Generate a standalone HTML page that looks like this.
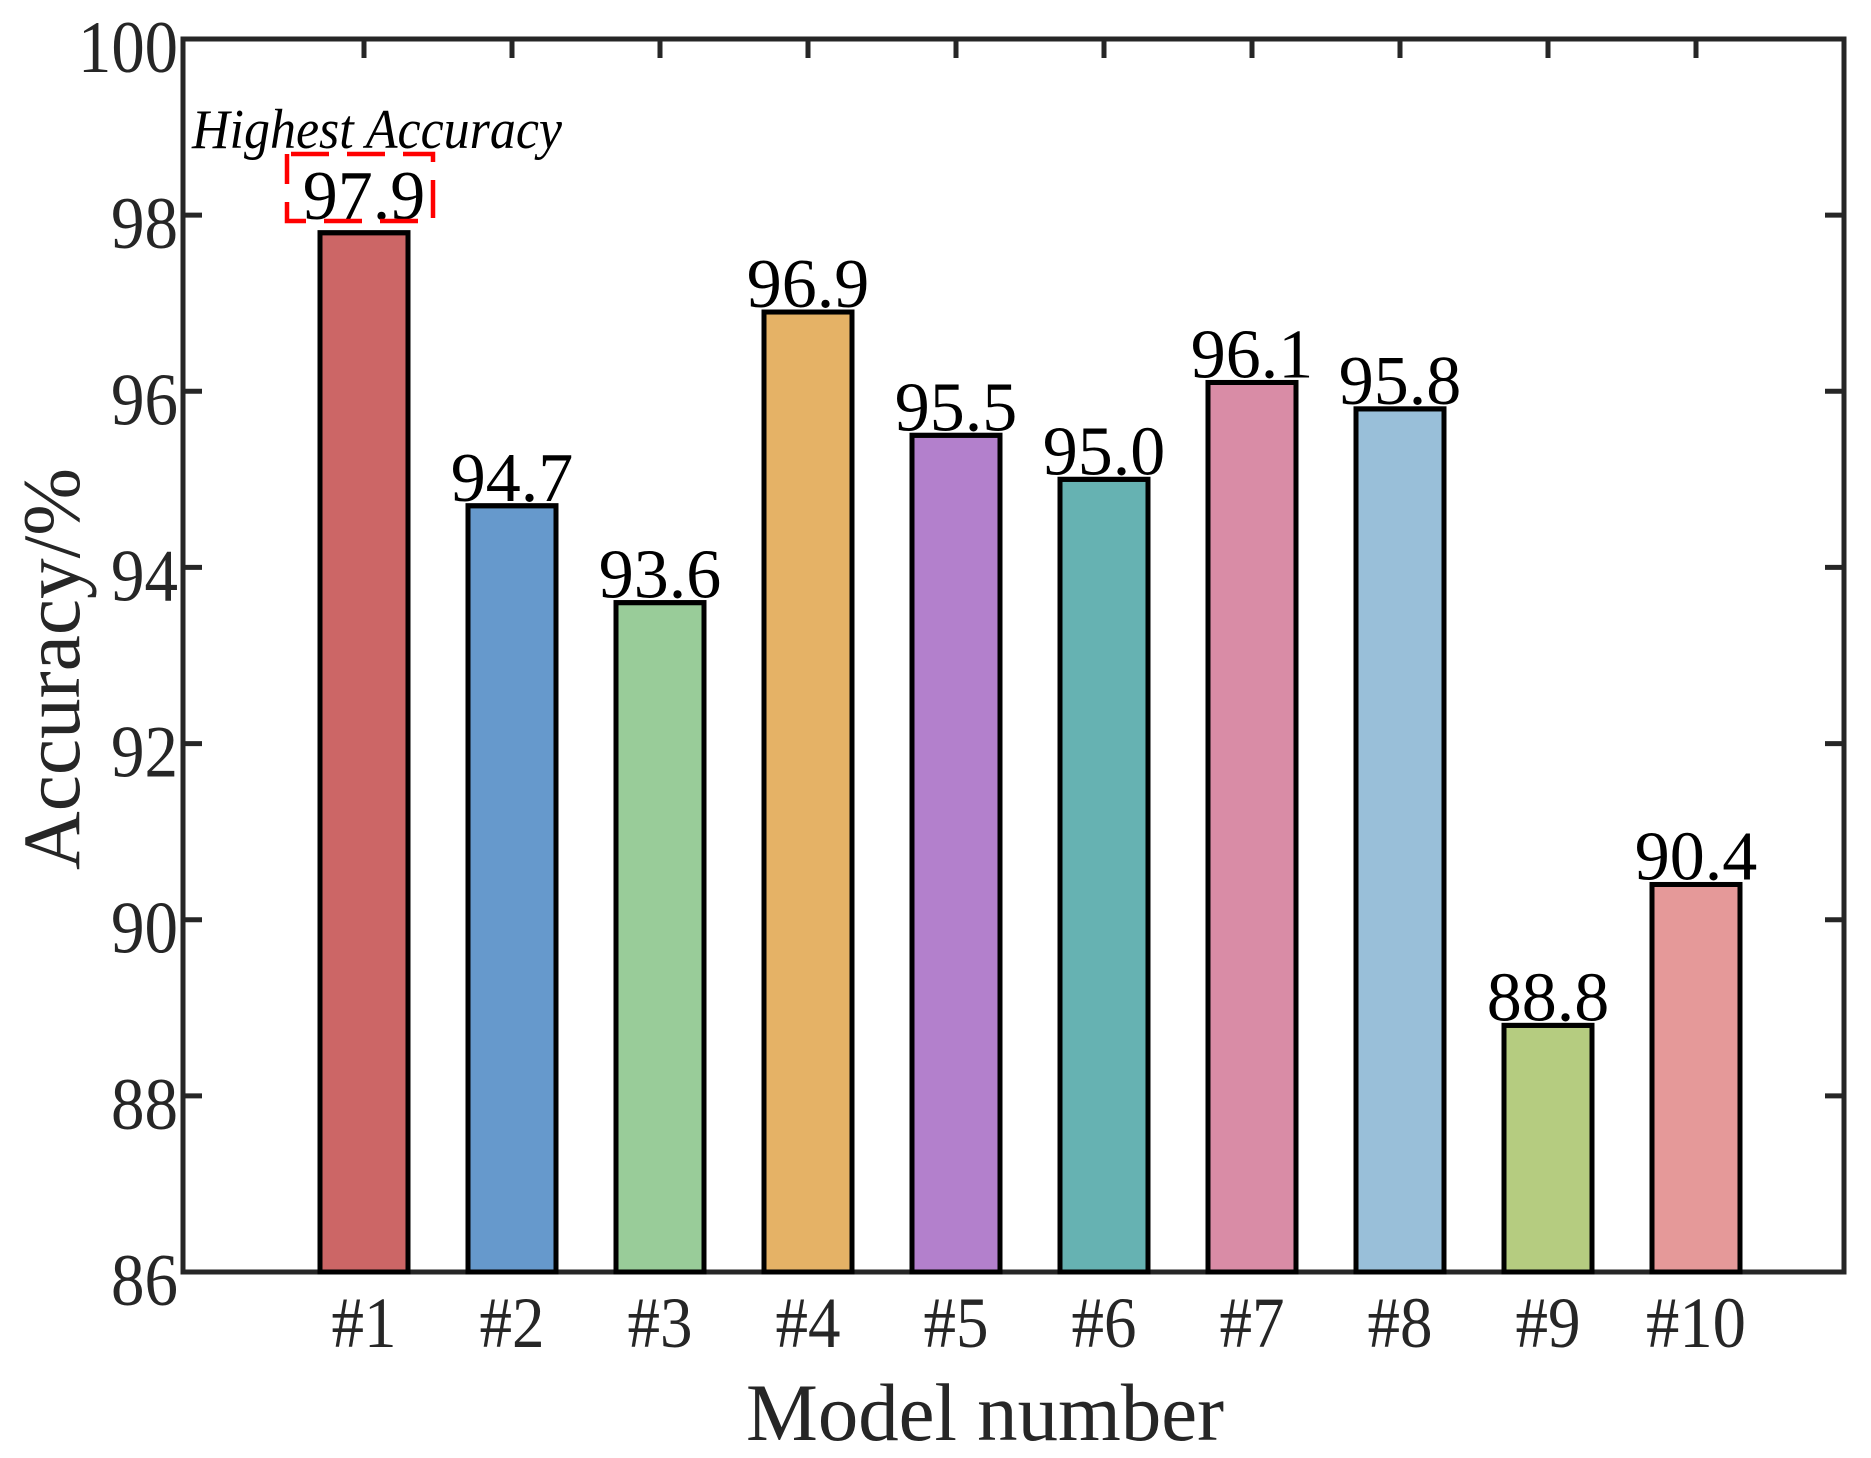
<!DOCTYPE html>
<html><head><meta charset="utf-8"><style>
html,body{margin:0;padding:0;background:#fff;}
svg{display:block;font-family:"Liberation Serif","Times New Roman",serif;}
</style></head><body>
<svg id="chart" width="1871" height="1458" viewBox="0 0 1871 1458" xmlns="http://www.w3.org/2000/svg">
<rect x="0" y="0" width="1871" height="1458" fill="#fff"/>
<g id="bars"></g>
<g id="labels"></g>
<g id="axes"></g>
<text x="192" y="148" font-size="56" font-style="italic" textLength="370" lengthAdjust="spacingAndGlyphs" fill="#000">Highest Accuracy</text>
<rect x="287" y="154" width="146" height="67" fill="none" stroke="#ff0000" stroke-width="4.5" stroke-dasharray="38,18" stroke-dashoffset="-4"/>
<text x="985" y="1440" font-size="82" text-anchor="middle" textLength="478" lengthAdjust="spacingAndGlyphs" fill="#262626">Model number</text>
<text x="0" y="0" font-size="82" text-anchor="middle" textLength="402" lengthAdjust="spacingAndGlyphs" fill="#262626" transform="translate(79,669) rotate(-90)">Accuracy/%</text>
</svg>
<script>
const categories = ["#1","#2","#3","#4","#5","#6","#7","#8","#9","#10"];
const values = [97.8, 94.7, 93.6, 96.9, 95.5, 95.0, 96.1, 95.8, 88.8, 90.4];
const valueLabels = ["97.9","94.7","93.6","96.9","95.5","95.0","96.1","95.8","88.8","90.4"];
const colors = ["#CC6666","#6699CC","#99CC99","#E5B266","#B380CC","#66B2B2","#D98CA6","#99BFD9","#B5CC80","#E59999"];
const yTicks = [86, 88, 90, 92, 94, 96, 98, 100];

const NS = "http://www.w3.org/2000/svg";
const L = 183, R = 1844, T = 39, B = 1272;
const yMin = 86, yMax = 100;
function yScale(v){ return B - (v - yMin) / (yMax - yMin) * (B - T); }
function xScale(i){ return 364 + i * 148; }
const barW = 88;
function mk(tag, attrs, parent){ const e = document.createElementNS(NS, tag); for (const k in attrs) e.setAttribute(k, attrs[k]); parent.appendChild(e); return e; }

const gBars = document.getElementById('bars');
const gLab = document.getElementById('labels');
const gAx = document.getElementById('axes');

categories.forEach((c, i) => {
  const cx = xScale(i), y = yScale(values[i]);
  const r = mk('rect', {x: cx - barW/2, y: y, width: barW, height: B - y, fill: colors[i], stroke: '#000', 'stroke-width': 5}, gBars);
  
  
  const ly = Math.min(y, yScale(parseFloat(valueLabels[i]))) - 5;
  const t = mk('text', {x: cx, y: ly, 'font-size': 70, 'text-anchor': 'middle', fill: '#000'}, gLab);
  t.textContent = valueLabels[i];
  
  
  const xt = mk('text', {x: cx, y: 1347, 'font-size': 72, 'text-anchor': 'middle', fill: '#262626', textLength: c.length > 2 ? 100 : 65, lengthAdjust: 'spacingAndGlyphs'}, gAx);
  xt.textContent = c;
  
  
  const tt = mk('line', {x1: cx, x2: cx, y1: T, y2: T + 19, stroke: '#262626', 'stroke-width': 5}, gAx);
  
  
});

yTicks.forEach(v => {
  const y = yScale(v);
  const l1 = mk('line', {x1: L, x2: L + 19, y1: y, y2: y, stroke: '#262626', 'stroke-width': 5}, gAx);
  
  
  const l2 = mk('line', {x1: R - 19, x2: R, y1: y, y2: y, stroke: '#262626', 'stroke-width': 5}, gAx);
  
  
  const s = String(v);
  const t = mk('text', {x: 178, y: y + 33, 'font-size': 74, 'text-anchor': 'end', fill: '#262626', textLength: s.length > 2 ? 100 : 67, lengthAdjust: 'spacingAndGlyphs'}, gAx);
  t.textContent = s;
  
  
});

const frame = mk('rect', {x: L, y: T, width: R - L, height: B - T, fill: 'none', stroke: '#262626', 'stroke-width': 5}, gAx);


categories.forEach((c, i) => {
  const cx = xScale(i), y = yScale(values[i]);
  const o = mk('rect', {x: cx - barW/2, y: y, width: barW, height: B - y, fill: 'none', stroke: '#000', 'stroke-width': 5}, gAx);
  
  
});
</script>
</body></html>
